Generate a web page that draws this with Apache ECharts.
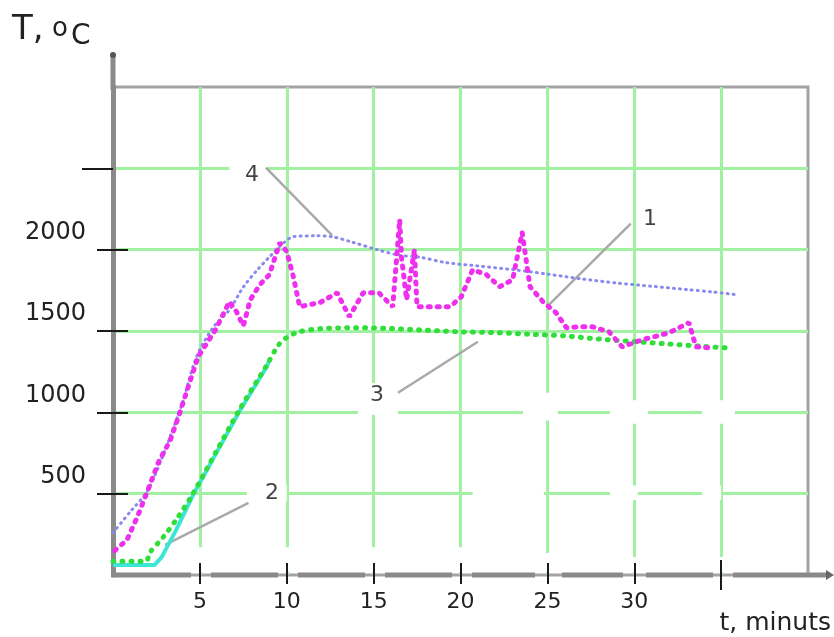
<!DOCTYPE html>
<html>
<head>
<meta charset="utf-8">
<script src="https://cdn.jsdelivr.net/npm/echarts@6/dist/echarts.min.js"></script>
<style>html,body{margin:0;padding:0;background:#fff;}#c{width:834px;height:637px;}</style>
</head>
<body>
<div id="c"></div>
<script>
// ---- data ----
const xTickValues = [5, 10, 15, 20, 25, 30];
const xLongTick = [35];
const xLabelValues = [5, 10, 15, 20, 25, 30];
const yTickValues = [500, 1000, 1500, 2000];
const yExtraTick = [2500];
const yLabelValues = [500, 1000, 1500, 2000];

// curve 1 (magenta, measured)
const curve1 = [[0.1,150],[0.8,215],[1.4,357],[2.0,520],[2.6,689],[3.3,830],[3.9,1015],[4.4,1180],[4.9,1342],[5.9,1508],[6.7,1680],[7.1,1620],[7.5,1532],[7.9,1692],[8.45,1785],[9.0,1846],[9.6,2043],[10.0,1988],[10.35,1846],[10.75,1649],[11.3,1662],[11.9,1674],[12.9,1735],[13.6,1588],[14.4,1735],[15.3,1735],[16.1,1649],[16.5,2185],[16.6,1957],[16.9,1692],[17.35,2000],[17.45,1754],[17.5,1649],[18.3,1649],[19.4,1649],[20.05,1711],[20.7,1877],[21.5,1846],[22.25,1772],[23.0,1815],[23.55,2105],[23.8,1920],[24.0,1772],[24.8,1674],[25.5,1612],[26.1,1520],[26.8,1526],[27.6,1526],[28.55,1495],[29.3,1403],[30.45,1446],[31.15,1465],[32.0,1489],[33.15,1551],[33.55,1403],[34.3,1397]];
// curve 2 (cyan)
const curve2 = [[0,62],[2.4,62],[2.8,110],[3.6,270],[4.6,490],[6,760],[7.3,1010],[8.85,1280],[9,1320]];
// curve 3 (green)
const curve3 = [[0,85],[1.9,85],[2.1,135],[2.9,234],[3.7,350],[4.6,500],[6,770],[7.3,1020],[8.85,1290],[9.5,1410],[10,1460],[10.7,1495],[12,1515],[14,1520],[16,1515],[18,1505],[20,1495],[22,1490],[24,1480],[26,1470],[28,1450],[30,1435],[32,1420],[34,1405],[35.5,1395]];
// curve 4 (blue)
const curve4 = [[0,260],[1,390],[2,520],[3,770],[4,1060],[4.8,1340],[5.75,1520],[6.7,1630],[7.5,1770],[8.3,1875],[9,1955],[9.8,2040],[10.4,2080],[11.7,2085],[12.6,2080],[13.8,2045],[15.2,2000],[16.5,1965],[17.6,1955],[19.2,1920],[21,1900],[23.2,1875],[25,1850],[27,1820],[29,1795],[31,1775],[33,1755],[34.5,1740],[35.9,1723]];

// curve number annotations
const annotLabels = ['4', '1', '3', '2'];
const annotTextPos = [[8.0,2460],[30.9,2185],[15.2,1105],[9.15,505]];
const annotLineStart = [[8.8,2505],[29.8,2160],[16.4,1120],[7.8,443]];
const annotLineEnd = [[12.6,2090],[25.1,1662],[21.0,1434],[3.0,185]];

// erased (white) spots of the scanned original, as [t1, T1, t2, T2]
const erased = [
  [14.1, 985, 16.4, 1180],   // around label 3
  [7.7, 455, 10.0, 555],     // around label 2
  [6.7, 2440, 8.9, 2550],    // around label 4
  [23.6, 950, 25.6, 1120],
  [28.6, 930, 30.8, 1075],
  [33.9, 930, 35.8, 1075],
  [20.7, 460, 24.8, 550],
  [28.6, 460, 30.2, 550],
  [33.9, 460, 35.0, 550],
  [0.4, 18, 22.3, 170],
  [22.3, 18, 28.0, 135],
  [28.0, 18, 39.8, 110]
];

// ---- chart ----
const FONT = 'DejaVu Sans';
const chart = echarts.init(document.getElementById('c'), null, {renderer: 'canvas'});

const series = [];
series.push({
  type: 'line', data: [], silent: true, clip: false, z: 2,
  markArea: {
    silent: true, itemStyle: {color: '#ffffff', opacity: 1},
    data: erased.map(e => [{coord: [e[0], e[1]]}, {coord: [e[2], e[3]]}])
  }
});
annotLabels.forEach((lab, i) => {
  series.push({
    type: 'line', data: [annotLineStart[i], annotLineEnd[i]], showSymbol: false, silent: true,
    lineStyle: {color: '#a9a9a9', width: 2.5}, z: 3
  });
});
series.push({
  name: '2', type: 'line', data: curve2, showSymbol: false,
  lineStyle: {color: '#3ce6d6', width: 4}, z: 4
});
series.push({
  name: '3', type: 'line', data: curve3, showSymbol: false, smooth: 0.3,
  lineStyle: {color: '#30dd3a', width: 5, type: [1, 8], cap: 'round'}, z: 5
});
series.push({
  name: '4', type: 'line', data: curve4, showSymbol: false, smooth: 0.3,
  lineStyle: {color: '#8a8aee', width: 3, type: [1, 5], cap: 'round'}, z: 6
});
series.push({
  name: '1', type: 'line', data: curve1, showSymbol: false,
  lineStyle: {color: '#ee30ee', width: 5, type: [2, 7], cap: 'round'}, z: 7
});
series.push({
  type: 'scatter', symbolSize: 0, silent: true, z: 8,
  data: annotTextPos.map((p, i) => ({value: p, name: annotLabels[i]})),
  label: {show: true, position: 'inside', formatter: p => p.name, fontFamily: FONT, fontSize: 22, color: '#111'}
});

const tickStyle = {color: '#1a1a1a', width: 2};
const noLine = {show: false};
const AX = '#8a8a8a';

// broken x-axis line of the original (pixel segments of the drawing frame)
const axisSegments = [[111, 191], [211, 278], [298, 365], [385, 452], [472, 535], [562, 623], [646, 713], [733, 829]];
const graphics = axisSegments.map(s => ({
  type: 'line', shape: {x1: s[0], y1: 575, x2: s[1], y2: 575}, style: {stroke: AX, lineWidth: 5}, z: 9
}));
graphics.push(
  {type: 'line', shape: {x1: 113, y1: 90, x2: 113, y2: 56}, style: {stroke: AX, lineWidth: 5}, z: 10},
  {type: 'circle', shape: {cx: 113, cy: 55, r: 3}, style: {fill: '#555'}, z: 11},
  {type: 'polygon', shape: {points: [[826, 570], [834, 575], [826, 580]]}, style: {fill: '#666'}, z: 11},
  {type: 'text', left: 12, top: 13, style: {text: 'T,', fontFamily: FONT, fontSize: 34, fill: '#222'}, z: 11},
  {type: 'text', left: 52, top: 16, style: {text: 'o', fontFamily: FONT, fontSize: 26, fill: '#222'}, z: 11},
  {type: 'text', left: 71, top: 23, style: {text: 'C', fontFamily: FONT, fontSize: 28, fill: '#222'}, z: 11},
  {type: 'text', right: 3, top: 611, style: {text: 't, minuts', fontFamily: FONT, fontSize: 25, fill: '#222'}, z: 11}
);

const option = {
  animation: false,
  backgroundColor: '#fff',
  grid: {left: 113, top: 87, right: 26, bottom: 62, show: true, borderColor: '#a3a3a3', borderWidth: 3, backgroundColor: 'transparent'},
  xAxis: [{
    type: 'value', min: 0, max: 40, interval: 5,
    axisLine: {show: false},
    axisTick: {show: false}, axisLabel: {show: false},
    splitLine: {show: true, showMinLine: false, showMaxLine: false, lineStyle: {color: '#a2f0a2', width: 3}}
  }, {
    type: 'value', min: 0, max: 40, position: 'bottom', z: 10,
    axisLine: noLine,
    axisTick: {show: true, customValues: xTickValues, length: 9, lineStyle: tickStyle},
    axisLabel: {customValues: xLabelValues, margin: 16, fontFamily: FONT, fontSize: 22, color: '#222'},
    splitLine: {show: false}
  }, {
    type: 'value', min: 0, max: 40, position: 'bottom', z: 10,
    axisLine: noLine,
    axisTick: {show: true, inside: true, customValues: xTickValues, length: 12, lineStyle: tickStyle},
    axisLabel: {show: false}, splitLine: {show: false}
  }, {
    type: 'value', min: 0, max: 40, position: 'bottom', z: 10,
    axisLine: noLine,
    axisTick: {show: true, customValues: xLongTick, length: 15, lineStyle: tickStyle},
    axisLabel: {show: false}, splitLine: {show: false}
  }, {
    type: 'value', min: 0, max: 40, position: 'bottom', z: 10,
    axisLine: noLine,
    axisTick: {show: true, inside: true, customValues: xLongTick, length: 15, lineStyle: tickStyle},
    axisLabel: {show: false}, splitLine: {show: false}
  }],
  yAxis: [{
    type: 'value', min: 0, max: 3000, interval: 500,
    axisLine: {show: true, lineStyle: {color: AX, width: 5}},
    axisTick: {show: false}, axisLabel: {show: false},
    splitLine: {show: true, showMinLine: false, showMaxLine: false, lineStyle: {color: '#a2f0a2', width: 3}}
  }, {
    type: 'value', min: 0, max: 3000, position: 'left', z: 10,
    axisLine: noLine,
    axisTick: {show: true, customValues: yTickValues, length: 16, lineStyle: tickStyle},
    axisLabel: {customValues: yLabelValues, formatter: v => String(v), margin: 27, fontFamily: FONT, fontSize: 24, color: '#222', verticalAlign: 'bottom', padding: [0, 0, 5, 0]},
    splitLine: {show: false}
  }, {
    type: 'value', min: 0, max: 3000, position: 'left', z: 10,
    axisLine: noLine,
    axisTick: {show: true, inside: true, customValues: yTickValues, length: 15, lineStyle: tickStyle},
    axisLabel: {show: false}, splitLine: {show: false}
  }, {
    type: 'value', min: 0, max: 3000, position: 'left', z: 10,
    axisLine: noLine,
    axisTick: {show: true, customValues: yExtraTick, length: 31, lineStyle: tickStyle},
    axisLabel: {show: false}, splitLine: {show: false}
  }],
  graphic: graphics,
  series: series
};
chart.setOption(option);
</script>
</body>
</html>
